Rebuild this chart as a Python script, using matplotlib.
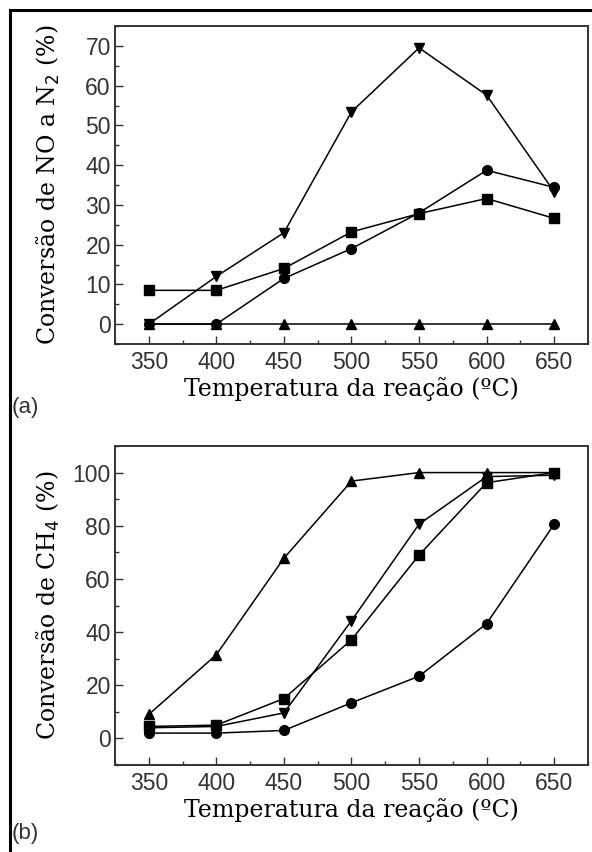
import numpy as np
import matplotlib
matplotlib.use("Agg")
import matplotlib.pyplot as plt
from matplotlib.ticker import MultipleLocator
from matplotlib.lines import Line2D

TEMP = [350, 400, 450, 500, 550, 600, 650]

# (a) NO -> N2 conversion (%)
NO_SQUARE = [8.5, 8.5, 14, 23.2, 27.8, 31.6, 26.6]
NO_CIRCLE = [0, 0, 11.5, 19.0, 28.0, 38.7, 34.4]
NO_DOWN = [0, 12, 23, 53.4, 69.5, 57.6, 33.3]
NO_UP = [0, 0, 0, 0, 0, 0, 0]

# (b) CH4 conversion (%)
CH4_UP = [9, 31.5, 67.8, 96.8, 100, 100, 100]
CH4_SQUARE = [4.5, 5, 15, 37.1, 69, 96.2, 100]
CH4_DOWN = [4, 4.5, 9.6, 44.3, 80.6, 98.5, 99]
CH4_CIRCLE = [2, 2, 3, 13.4, 23.4, 43.2, 80.6]

SERIF = "DejaVu Serif"
SANS = "Liberation Sans"
SPINE = "#333333"

fig = plt.figure(figsize=(5.92, 8.52), dpi=100)
W, H = 592, 852
AX_L, AX_R = 115, 588


def box(x0, y0, x1, y1):
    return [x0 / W, 1 - y1 / H, (x1 - x0) / W, (y1 - y0) / H]


def style(ax, ylim, ymaj, ymin, ylabel):
    ax.set_xlim(325, 675)
    ax.set_ylim(*ylim)
    ax.xaxis.set_major_locator(MultipleLocator(50))
    ax.xaxis.set_minor_locator(MultipleLocator(25))
    ax.yaxis.set_major_locator(MultipleLocator(ymaj))
    ax.yaxis.set_minor_locator(MultipleLocator(ymin))
    ax.tick_params(which="both", direction="in", color=SPINE, width=1.0)
    ax.tick_params(which="major", length=6)
    ax.tick_params(which="minor", length=3)
    ax.tick_params(axis="x", pad=5)
    ax.tick_params(axis="y", pad=3)
    for lab in ax.get_xticklabels() + ax.get_yticklabels():
        lab.set_fontfamily(SANS)
        lab.set_fontsize(16.5)
        lab.set_color("#333333")
    for s in ax.spines.values():
        s.set_color(SPINE)
        s.set_linewidth(1.4)
    ax.set_xlabel("Temperatura da reação (ºC)", fontfamily=SERIF, fontsize=17, labelpad=2)
    ax.set_ylabel(ylabel, fontfamily=SERIF, fontsize=17)
    ax.yaxis.set_label_coords((62 - AX_L) / (AX_R - AX_L), 0.5)


kw = dict(color="black", lw=1.1, ms=7, clip_on=False)

ax1 = fig.add_axes(box(AX_L, 26, AX_R, 344))
ax1.plot(TEMP, NO_SQUARE, marker="s", **kw)
ax1.plot(TEMP, NO_CIRCLE, marker="o", **kw)
ax1.plot(TEMP, NO_DOWN, marker="v", **kw)
ax1.plot(TEMP, NO_UP, marker="^", **kw)
style(ax1, (-5, 75), 10, 5, "Conversão de NO a N$_2$ (%)")

ax2 = fig.add_axes(box(AX_L, 446, AX_R, 765))
ax2.plot(TEMP, CH4_UP, marker="^", **kw)
ax2.plot(TEMP, CH4_SQUARE, marker="s", **kw)
ax2.plot(TEMP, CH4_DOWN, marker="v", **kw)
ax2.plot(TEMP, CH4_CIRCLE, marker="o", **kw)
style(ax2, (-10, 110), 20, 10, "Conversão de CH$_4$ (%)")

fig.text(12 / W, 1 - 407 / H, "(a)", fontfamily=SANS, fontsize=16, va="center", ha="left",
         color="#333333")
fig.text(12 / W, 1 - 834 / H, "(b)", fontfamily=SANS, fontsize=16, va="center", ha="left",
         color="#333333")

# outer frame (top and left edges)
fig.add_artist(Line2D([10 / W, 10 / W], [0, 1 - 10 / H], color="black", lw=2.2,
                      transform=fig.transFigure))
fig.add_artist(Line2D([10 / W, 1], [1 - 10 / H, 1 - 10 / H], color="black", lw=2.2,
                      transform=fig.transFigure))

fig.savefig("out.png", dpi=100)
